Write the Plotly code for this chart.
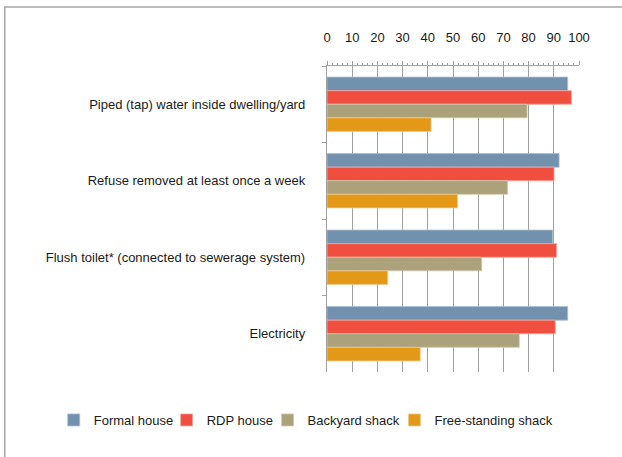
import plotly.graph_objects as go

categories = [
    "Piped (tap) water inside dwelling/yard",
    "Refuse removed at least once a week",
    "Flush toilet* (connected to sewerage system)",
    "Electricity",
]
series_names = ["Formal house", "RDP house", "Backyard shack", "Free-standing shack"]
formal_house = [95.5, 92.1, 89.5, 95.5]
rdp_house = [97.0, 90.1, 91.1, 90.6]
backyard_shack = [79.4, 71.7, 61.4, 76.3]
free_standing_shack = [41.3, 51.8, 24.1, 37.0]
x_ticks = [0, 10, 20, 30, 40, 50, 60, 70, 80, 90, 100]

colors = ["#7191AE", "#F04F3F", "#ABA27C", "#E39818"]
edge_colors = ["#A9BDD0", "#F8A79F", "#CFC9B0", "#F1C98A"]
values = [formal_house, rdp_house, backyard_shack, free_standing_shack]

W, H = 622, 457
ml, mr, mt, mb = 326.5, 43.3, 66, 85
pw = W - ml - mr
ph = H - mt - mb

fig = go.Figure()
legend_names = ["legend", "legend2", "legend3", "legend4"]
text_starts = [97, 210, 311, 438]  # pixel x where legend text starts
for i, (name, vals) in enumerate(zip(series_names, values)):
    fig.add_trace(go.Bar(
        y=categories, x=vals, name=name, orientation="h",
        marker=dict(color=colors[i], line=dict(color=edge_colors[i], width=0.8)),
        legend=legend_names[i],
    ))

font = dict(family="Liberation Sans, Arial, sans-serif", size=13, color="#1a1a1a")

legend_layouts = {}
for i, ln in enumerate(legend_names):
    px = text_starts[i] - 44
    legend_layouts[ln] = dict(
        x=(px - ml) / pw, xanchor="left",
        y=-(420 - (mt + ph)) / ph, yanchor="middle",
        orientation="h", font=font, bgcolor="rgba(0,0,0,0)",
        itemclick=False, itemdoubleclick=False,
    )

fig.update_layout(
    width=W, height=H,
    margin=dict(l=ml, r=mr, t=mt, b=mb, pad=0),
    paper_bgcolor="white", plot_bgcolor="white",
    barmode="group", bargap=0.29, bargroupgap=0,
    font=font,
    showlegend=True,
    **legend_layouts,
    xaxis=dict(
        side="top", range=[0, 100], tickvals=x_ticks, ticktext=[str(v) for v in x_ticks],
        showgrid=True, gridcolor="#A0A0A0", gridwidth=1.4,
        showline=True, linecolor="#A0A0A0", linewidth=1.4,
        ticks="outside", ticklen=4, tickcolor="#A0A0A0", tickwidth=1.4,
        minor=dict(dtick=2, ticks="outside", ticklen=2, tickcolor="#A0A0A0", showgrid=False),
        ticklabelstandoff=14, zeroline=False, fixedrange=True,
    ),
    yaxis=dict(
        autorange="reversed", type="category",
        showline=True, linecolor="#A0A0A0", linewidth=1.4,
        ticks="outside", ticklen=4, tickcolor="#A0A0A0", tickwidth=1.4,
        tickson="boundaries", showgrid=False, ticklabelstandoff=18, fixedrange=True,
    ),
    shapes=[
        dict(type="rect", xref="paper", yref="paper",
             x0=(4 - ml) / pw, x1=(640 - ml) / pw,
             y0=-(470 - (mt + ph)) / ph, y1=(mt + ph - 7) / ph,
             line=dict(color="#A6A6A6", width=1.5), fillcolor="rgba(0,0,0,0)", layer="below"),
    ],
)

fig.write_html("out.html")
